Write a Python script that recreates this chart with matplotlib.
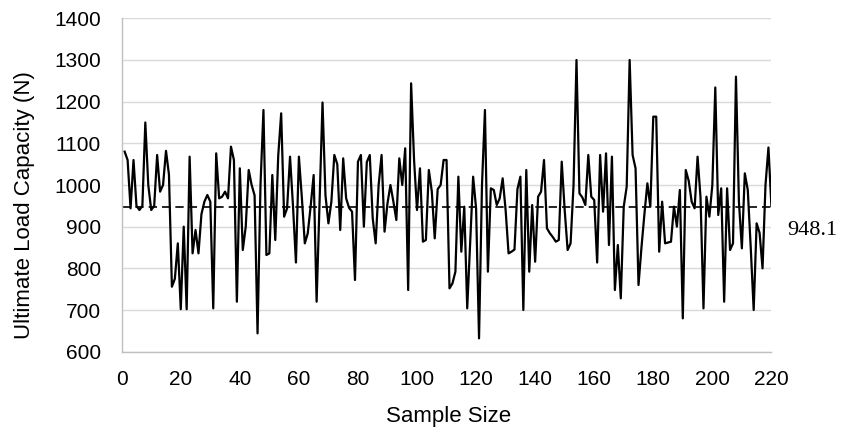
import numpy as np
import matplotlib.pyplot as plt

plt.rcParams['font.family'] = ['Liberation Sans', 'DejaVu Sans']

# ultimate load capacity (N) per sample
load = [
    1080, 1060, 944, 1060, 950, 940, 950, 1150, 1000, 940,
    950, 1072, 984, 1000, 1082, 1025, 756, 775, 860, 702,
    900, 702, 1068, 836, 892, 836, 930, 960, 976, 960,
    704, 1076, 968, 972, 984, 968, 1092, 1060, 720, 1040,
    844, 900, 1036, 1000, 975, 644, 1000, 1180, 832, 836,
    1024, 868, 1070, 1172, 924, 944, 1068, 950, 814, 1068,
    970, 860, 884, 950, 1024, 720, 960, 1198, 975, 908,
    960, 1072, 1050, 892, 1064, 968, 945, 936, 772, 1056,
    1072, 900, 1055, 1072, 920, 860, 1000, 1072, 888, 956,
    1000, 960, 916, 1064, 1000, 1088, 748, 1244, 1060, 940,
    1040, 864, 868, 1036, 985, 872, 990, 1000, 1060, 1060,
    752, 764, 792, 1020, 840, 948, 704, 860, 1020, 944,
    632, 1000, 1180, 792, 992, 988, 952, 968, 1016, 940,
    836, 840, 845, 990, 1020, 700, 1036, 792, 952, 816,
    972, 984, 1060, 896, 884, 875, 864, 868, 1056, 940,
    844, 860, 1000, 1300, 980, 970, 952, 1072, 972, 964,
    814, 1072, 936, 1076, 856, 1068, 748, 856, 728, 948,
    996, 1300, 1072, 1040, 760, 850, 930, 1004, 948, 1164,
    1164, 840, 960, 860, 862, 864, 948, 900, 988, 680,
    1036, 1010, 960, 944, 1068, 970, 704, 972, 924, 1000,
    1234, 928, 992, 720, 992, 844, 860, 1260, 960, 848,
    1028, 988, 850, 700, 908, 885, 800, 1000, 1090, 950,
]
mean_load = 948.1
x = np.arange(1, len(load) + 1)

W, H = 841, 429
fig = plt.figure(figsize=(W / 100, H / 100), dpi=100)
# plot area in pixels: x 121.7..771.4, y 18.3..351.7
ax = fig.add_axes([121.7 / W, 1 - 351.7 / H, 649.7 / W, 333.4 / H])

ax.plot(x, load, color='black', lw=1.6, zorder=3)
ax.plot([0, 220], [mean_load, mean_load], color='black', lw=1.2,
        ls=(0, (5, 3)), zorder=2)
ax.text(225.2, 892, '948.1', family=['Liberation Serif'], fontsize=16,
        va='center', ha='left')

ax.set_xlim(0, 220)
ax.set_ylim(600, 1400)
ax.set_xticks(np.arange(0, 221, 20))
ax.set_yticks(np.arange(600, 1401, 100))
ax.grid(axis='y', color='#d9d9d9', lw=1)
ax.set_axisbelow(True)
for s in ['top', 'right']:
    ax.spines[s].set_visible(False)
for s in ['left', 'bottom']:
    ax.spines[s].set_color('#bfbfbf')
    ax.spines[s].set_linewidth(1)
ax.tick_params(length=0, labelsize=15)
ax.tick_params(axis='x', pad=13)
ax.tick_params(axis='y', pad=15)

fig.text(449 / W, 1 - 416.7 / H, 'Sample Size', fontsize=16,
         ha='center', va='center')
fig.text(25 / W, 1 - 205 / H, 'Ultimate Load Capacity (N)', fontsize=16,
         ha='center', va='center', rotation=90)

fig.savefig('out.png', dpi=100)
